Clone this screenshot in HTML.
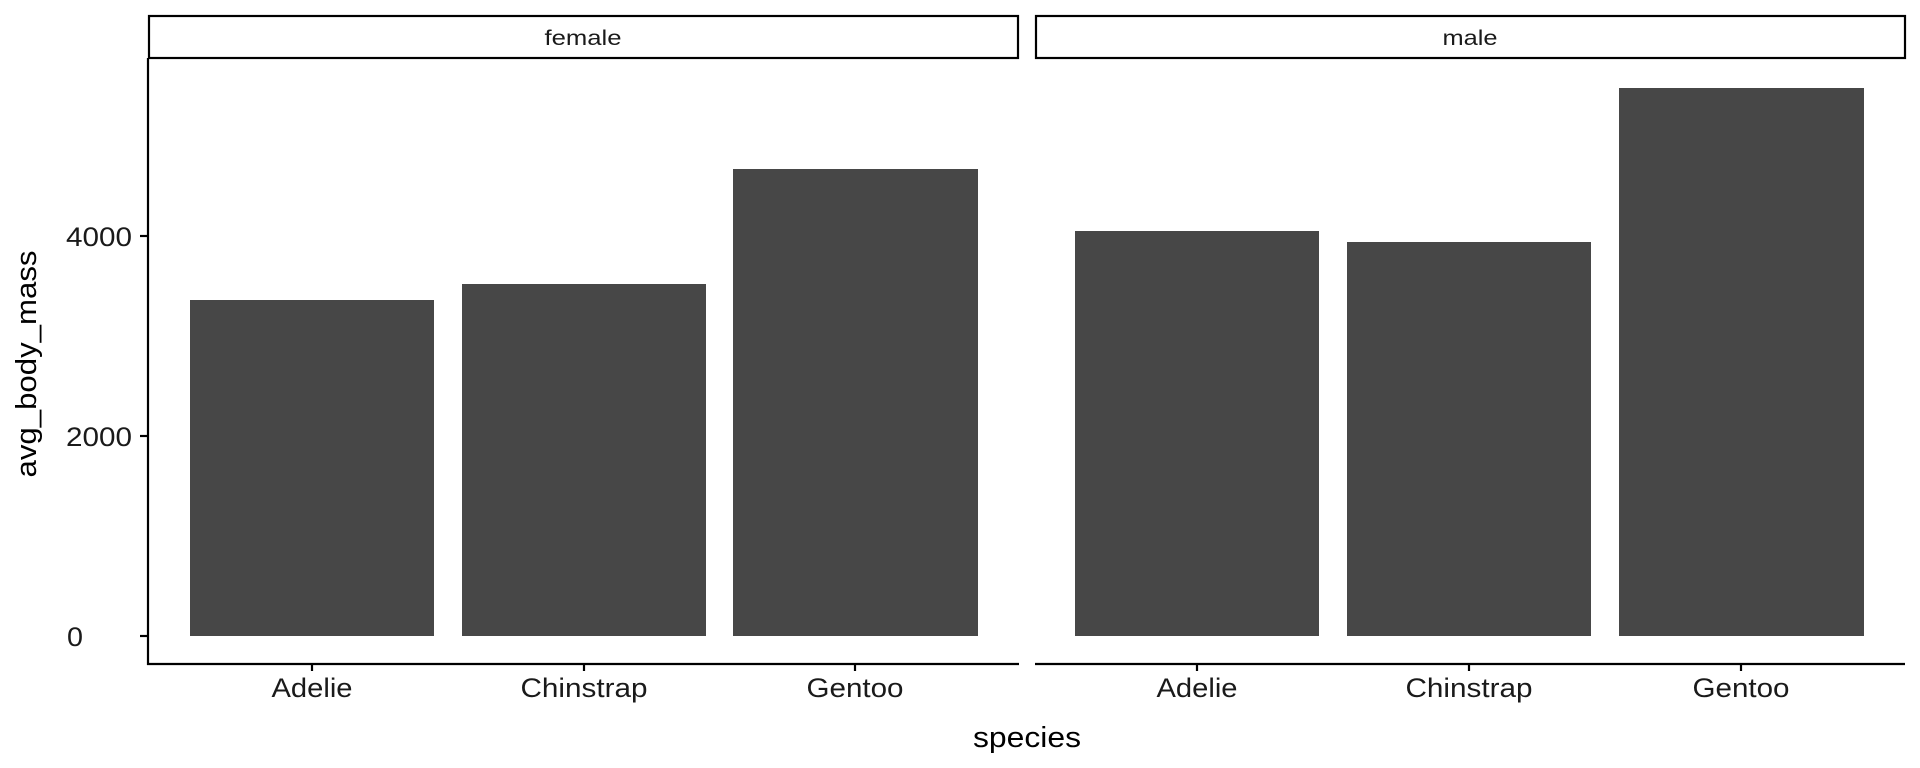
<!DOCTYPE html>
<html><head><meta charset="utf-8"><style>
html,body{margin:0;padding:0;background:#fff;}
svg{display:block;font-family:"Liberation Sans","Noto Sans CJK JP",sans-serif;}
</style></head><body>
<svg width="1920" height="768" viewBox="0 0 1920 768" xmlns="http://www.w3.org/2000/svg">
<rect width="1920" height="768" fill="#fff"/>
<rect x="149" y="16" width="869" height="42" fill="#fff" stroke="#000" stroke-width="2.2"/>
<rect x="1036" y="16" width="869" height="42" fill="#fff" stroke="#000" stroke-width="2.2"/>
<text x="583" y="45" font-size="21" text-anchor="middle" fill="#1a1a1a" textLength="77" lengthAdjust="spacingAndGlyphs">female</text>
<text x="1470" y="45" font-size="21" text-anchor="middle" fill="#1a1a1a" textLength="55" lengthAdjust="spacingAndGlyphs">male</text>
<g fill="#474747">
<rect x="190" y="300" width="244" height="336"/>
<rect x="462" y="284" width="244" height="352"/>
<rect x="733" y="169" width="245" height="467"/>
<rect x="1075" y="231" width="244" height="405"/>
<rect x="1347" y="242" width="244" height="394"/>
<rect x="1619" y="88" width="245" height="548"/>
</g>
<g stroke="#000" stroke-width="2.2" fill="none">
<line x1="148" y1="58" x2="148" y2="665"/>
<line x1="147" y1="664" x2="1019" y2="664"/>
<line x1="1035" y1="664" x2="1905" y2="664"/>
<line x1="140" y1="236" x2="148" y2="236"/>
<line x1="140" y1="436" x2="148" y2="436"/>
<line x1="140" y1="636" x2="148" y2="636"/>
<line x1="312" y1="664" x2="312" y2="671"/>
<line x1="584" y1="664" x2="584" y2="671"/>
<line x1="855" y1="664" x2="855" y2="671"/>
<line x1="1197" y1="664" x2="1197" y2="671"/>
<line x1="1469" y1="664" x2="1469" y2="671"/>
<line x1="1741" y1="664" x2="1741" y2="671"/>
</g>
<g font-size="27" fill="#1a1a1a">
<text x="66" y="246" textLength="66" lengthAdjust="spacingAndGlyphs">4000</text>
<text x="66" y="446" textLength="66" lengthAdjust="spacingAndGlyphs">2000</text>
<text x="67" y="646" textLength="16" lengthAdjust="spacingAndGlyphs">0</text>
<g text-anchor="middle">
<text x="312" y="697" textLength="81" lengthAdjust="spacingAndGlyphs">Adelie</text>
<text x="584" y="697" textLength="127" lengthAdjust="spacingAndGlyphs">Chinstrap</text>
<text x="855" y="697" textLength="97" lengthAdjust="spacingAndGlyphs">Gentoo</text>
<text x="1197" y="697" textLength="81" lengthAdjust="spacingAndGlyphs">Adelie</text>
<text x="1469" y="697" textLength="127" lengthAdjust="spacingAndGlyphs">Chinstrap</text>
<text x="1741" y="697" textLength="97" lengthAdjust="spacingAndGlyphs">Gentoo</text>
</g>
</g>
<text x="1027" y="747" font-size="29" text-anchor="middle" fill="#000" textLength="108" lengthAdjust="spacingAndGlyphs">species</text>
<text transform="translate(36,364) rotate(-90)" font-size="29" text-anchor="middle" fill="#000" textLength="227" lengthAdjust="spacingAndGlyphs">avg_body_mass</text>
</svg>
</body></html>
